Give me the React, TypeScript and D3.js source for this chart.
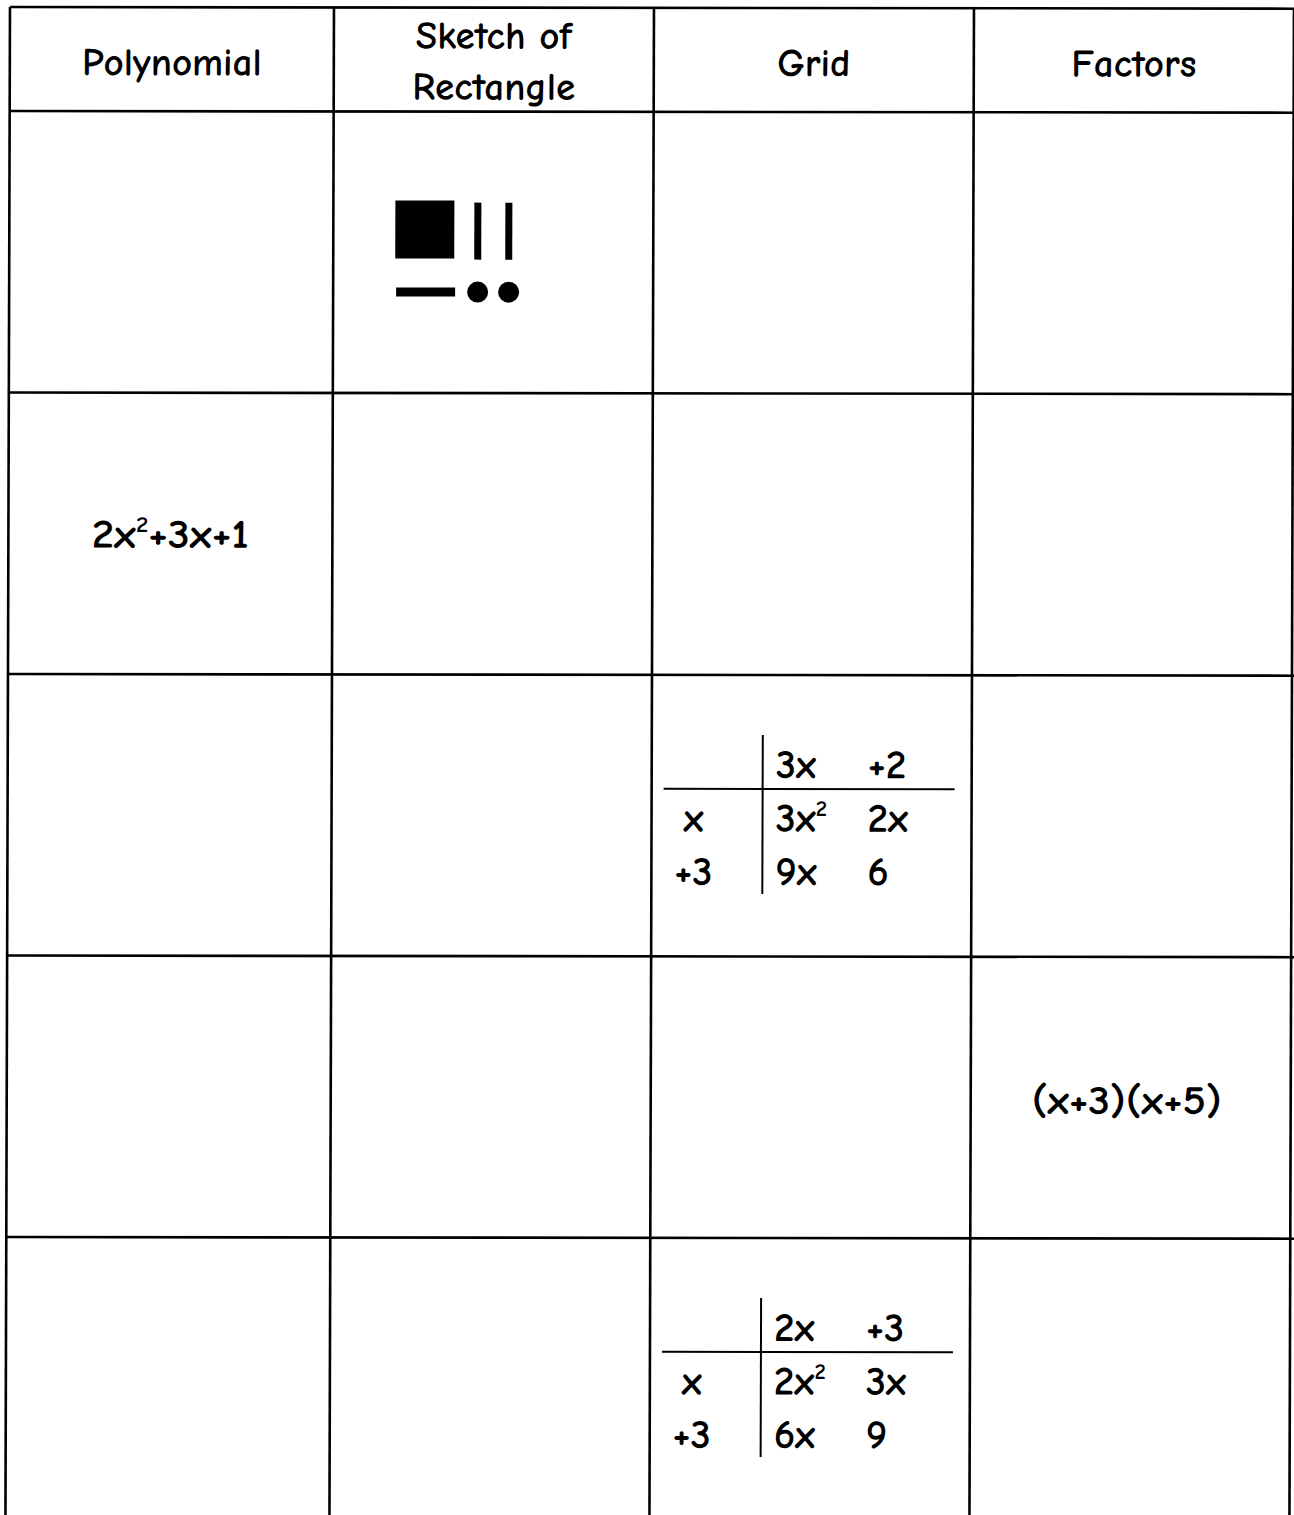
import React from "react";
import * as d3 from "d3";

// table content, one entry per body row
const headers = [["Polynomial"], ["Sketch of", "Rectangle"], ["Grid"], ["Factors"]];
const polynomials = ["", "2x^2+3x+1", "", "", ""];
const factors = ["", "", "", "(x+3)(x+5)", ""];
const gridTops = [[], [], ["3x", "+2"], [], ["2x", "+3"]];
const gridSides = [[], [], ["x", "+3"], [], ["x", "+3"]];
const gridCells = [[], [], [["3x^2", "2x"], ["9x", "6"]], [], [["2x^2", "3x"], ["6x", "9"]]];
// algebra tiles drawn in the sketch column of the first row
const sketchTiles = [
  ["x2", "x", "x"],
  ["x", "1", "1"],
];

const W = 1294;
const H = 1515;
const colWidths = [324, 320, 320, 320];
const left = 10;
const top = 7;
const headerBottom = 111;
const rowH = 281.5;
const font = "'Comic Sans MS', 'Comic Neue', 'DejaVu Sans', sans-serif";
const weight = 700;

const colEdges = [left, ...Array.from(d3.cumsum(colWidths), (d) => left + d)];
const rowY = d3.scaleLinear().domain([0, 5]).range([headerBottom, headerBottom + 5 * rowH]);

// text with "^" superscripts
function MathText({ s, x, y, size = 41, anchor = "start", len }: any) {
  const parts = s.split(/(\^\d)/).filter((p: string) => p.length);
  return (
    <text x={x} y={y} fontSize={size} fontFamily={font} fontWeight={weight} textAnchor={anchor} fill="#000"
      textLength={len} lengthAdjust={len ? "spacingAndGlyphs" : undefined}>
      {parts.map((p: string, i: number) =>
        p.startsWith("^") ? (
          <tspan key={i} fontSize={size * 0.55} dy={-size * 0.38}>{p.slice(1)}</tspan>
        ) : (
          <tspan key={i} dy={i > 0 && parts[i - 1].startsWith("^") ? size * 0.38 : 0}>{p}</tspan>
        )
      )}
    </text>
  );
}

function Grid({ x0, y0, tops, sides, cells }: any) {
  const colX = d3.scaleOrdinal<number, number>().domain([0, 1]).range([x0 + 124, x0 + 216]);
  const lineY = d3.scalePoint<number>().domain([0, 1, 2]).range([y0 + 103, y0 + 210]);
  return (
    <g>
      <line x1={x0 + 111} x2={x0 + 111} y1={y0 + 60} y2={y0 + 219} stroke="#000" strokeWidth={2} />
      <line x1={x0 + 12} x2={x0 + 303} y1={y0 + 114} y2={y0 + 114} stroke="#000" strokeWidth={2} />
      {tops.map((t: string, i: number) => (
        <MathText key={"t" + i} s={t} x={colX(i)} y={lineY(0)} />
      ))}
      {sides.map((t: string, i: number) => (
        <MathText key={"s" + i} s={t} x={x0 + 42} y={lineY(i + 1)} anchor="middle" />
      ))}
      {cells.map((row: string[], r: number) =>
        row.map((t, c) => <MathText key={r + "-" + c} s={t} x={colX(c)} y={lineY(r + 1)} />)
      )}
    </g>
  );
}

function Tiles({ x0, y0 }: any) {
  // first tile column holds the x-wide pieces, the others unit-wide pieces
  const xs = [x0, x0 + 72, x0 + 103];
  const ys = [y0, y0 + 81];
  const unitW = 21;
  const big = 59;
  const out: any[] = [];
  sketchTiles.forEach((row, r) =>
    row.forEach((k, c) => {
      const cx = c === 0 ? xs[0] + big / 2 : xs[c] + unitW / 2;
      const cy = r === 0 ? ys[0] + big / 2 : ys[1] + unitW / 2;
      const key = r + "-" + c;
      if (k === "x2") out.push(<rect key={key} x={xs[0]} y={ys[0]} width={big} height={big - 1} />);
      else if (k === "x" && c === 0) out.push(<rect key={key} x={xs[0] + 1} y={cy - 4.5} width={big} height={9} />);
      else if (k === "x") out.push(<rect key={key} x={cx - 3.5} y={ys[0] + 2} width={7} height={big - 2} />);
      else out.push(<circle key={key} cx={cx} cy={cy} r={10.5} />);
    })
  );
  return <g fill="#000">{out}</g>;
}

export default function App() {
  const cx = (i: number) => (colEdges[i] + colEdges[i + 1]) / 2;
  const rows = d3.range(5);
  return (
    <svg width={W} height={H} style={{ position: "absolute", left: 0, top: 0, background: "#fff" }}>
      <rect width={W} height={H} fill="#fff" />
      {/* the scan is slightly skewed */}
      <g transform="matrix(1, 0.0013, -0.003, 1, 0, 0)">
        <g stroke="#000" strokeWidth={2.6}>
          <line x1={left} x2={colEdges[4] + 4} y1={top} y2={top} />
          <line x1={left} x2={colEdges[4] + 4} y1={headerBottom} y2={headerBottom} />
          {rows.slice(1).map((r) => (
            <line key={r} x1={left} x2={colEdges[4] + 4} y1={rowY(r)} y2={rowY(r)} />
          ))}
          {colEdges.map((x, i) => (
            <line key={i} x1={x} x2={x} y1={top} y2={H + 10} />
          ))}
        </g>
        {headers.map((lines, i) =>
          lines.map((t, j) => (
            <text
              key={i + "-" + j}
              x={cx(i)}
              y={lines.length === 1 ? 75 : j === 0 ? 48 : 99}
              textAnchor="middle"
              fontSize={39}
              fontWeight={weight}
              fontFamily={font}
            >
              {t}
            </text>
          ))
        )}
        <Tiles x0={396} y0={200} />
        {polynomials.map((p, r) =>
          p ? <MathText key={r} s={p} x={cx(0)} y={rowY(r) + 155} anchor="middle" len={157} /> : null
        )}
        {factors.map((p, r) =>
          p ? <MathText key={r} s={p} x={cx(3) - 4} y={rowY(r) + 157} anchor="middle" len={190} /> : null
        )}
        {rows.map((r) =>
          gridTops[r].length ? (
            <Grid key={r} x0={colEdges[2]} y0={rowY(r)} tops={gridTops[r]} sides={gridSides[r]} cells={gridCells[r]} />
          ) : null
        )}
      </g>
    </svg>
  );
}
